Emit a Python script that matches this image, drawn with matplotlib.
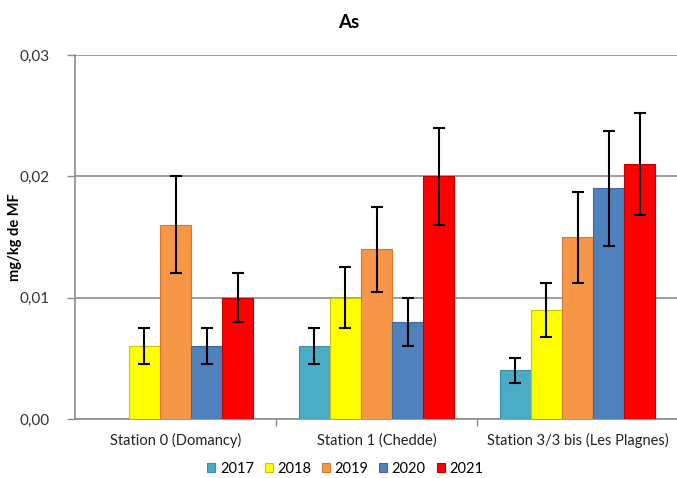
import matplotlib
matplotlib.use("Agg")
import matplotlib.pyplot as plt
import numpy as np
from matplotlib.ticker import FixedLocator, FuncFormatter

plt.rcParams['font.family'] = ['Lato', 'DejaVu Sans']

stations = ["Station 0 (Domancy)", "Station 1 (Chedde)", "Station 3/3 bis (Les Plagnes)"]
years = ["2017", "2018", "2019", "2020", "2021"]
colors = ["#4BACC6", "#FFFF00", "#F79646", "#4F81BD", "#FF0000"]
edges = ["#3a8ea6", "#c8c800", "#d07a30", "#3b6aa0", "#c00000"]

# concentration (mg/kg MF) per year, one value per station; NaN = no sample
values = {
    "2017": [np.nan, 0.006, 0.004],
    "2018": [0.006, 0.010, 0.009],
    "2019": [0.016, 0.014, 0.015],
    "2020": [0.006, 0.008, 0.019],
    "2021": [0.010, 0.020, 0.021],
}
errors = {
    "2017": [np.nan, 0.0015, 0.001],
    "2018": [0.0015, 0.0025, 0.00225],
    "2019": [0.004, 0.0035, 0.00375],
    "2020": [0.0015, 0.002, 0.00475],
    "2021": [0.002, 0.004, 0.0042],
}

fig = plt.figure(figsize=(6.77, 4.78), dpi=100)
ax = fig.add_axes([75 / 677, 1 - 419 / 478, 603 / 677, (419 - 55) / 478])

x = np.arange(len(stations))
bw = 0.155
for i, (yr, c, ec) in enumerate(zip(years, colors, edges)):
    pos = x + (i - 2) * bw
    vals = np.array(values[yr], dtype=float)
    errs = np.array(errors[yr], dtype=float)
    mask = ~np.isnan(vals)
    ax.bar(pos[mask], vals[mask], width=bw, color=c, edgecolor=ec, linewidth=0.8,
           label=yr, zorder=3)
    ax.errorbar(pos[mask], vals[mask], yerr=errs[mask], fmt='none', ecolor='black',
                elinewidth=1.5, capsize=4, capthick=1.5, zorder=4)

ax.set_xlim(-0.5, 2.5)
ax.set_ylim(0, 0.03)
ax.yaxis.set_major_locator(FixedLocator([0, 0.01, 0.02, 0.03]))
ax.yaxis.set_major_formatter(FuncFormatter(lambda v, p: f"{v:.2f}".replace(".", ",")))
ax.grid(axis='y', color='#8c8c8c', linewidth=1.2, zorder=0)
ax.set_axisbelow(True)

ax.set_xticks(x)
ax.set_xticklabels(stations)
ax.xaxis.set_minor_locator(FixedLocator([0.5, 1.5]))
ax.tick_params(axis='x', which='major', length=0, pad=10, labelsize=10.5, labelcolor='#222222')
ax.tick_params(axis='x', which='minor', length=5, color='#8c8c8c', width=1)
ax.tick_params(axis='y', length=6, color='#8c8c8c', width=1, pad=12, labelsize=11,
               labelcolor='#333333')

for s in ['top', 'right']:
    ax.spines[s].set_visible(False)
for s in ['left', 'bottom']:
    ax.spines[s].set_color('#8c8c8c')
    ax.spines[s].set_linewidth(1.2)

ax.set_ylabel("mg/kg de MF", fontsize=10.5, fontweight='bold')
ax.yaxis.set_label_coords(-0.088, 0.5)
fig.text(0.515, 1 - 22 / 478, "As", ha='center', va='center', fontsize=13.5,
         fontweight='bold')

handles, labels = ax.get_legend_handles_labels()
fig.legend(handles, labels, loc='center', bbox_to_anchor=(0.51, 1 - 469 / 478), ncol=5,
           frameon=False, fontsize=10.5, handlelength=0.55, handleheight=0.55,
           handletextpad=0.3, columnspacing=0.75)

fig.savefig("out.png", dpi=100)
